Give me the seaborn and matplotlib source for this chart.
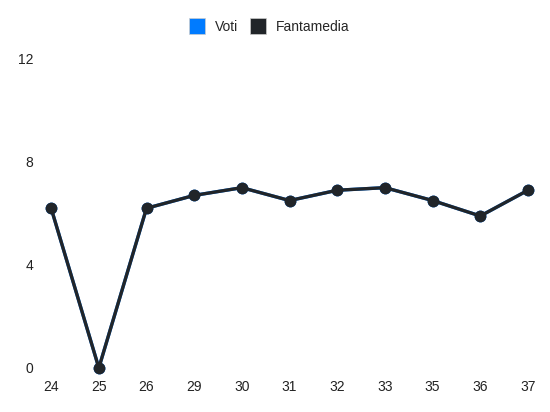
import pandas as pd
import seaborn as sns
import matplotlib
matplotlib.use('Agg')
import matplotlib.pyplot as plt
from matplotlib.lines import Line2D

sns.set_style('white')
plt.rcParams['font.family'] = ['Liberation Sans', 'DejaVu Sans']

giornate = ['24', '25', '26', '29', '30', '31', '32', '33', '35', '36', '37']
voti = [6.2, 0, 6.2, 6.7, 7.0, 6.5, 6.9, 7.0, 6.5, 5.9, 6.9]
fantamedia = [6.2, 0, 6.2, 6.7, 7.0, 6.5, 6.9, 7.0, 6.5, 5.9, 6.9]

colori = {'Voti': '#007bff', 'Fantamedia': '#212529'}

df = pd.concat([
    pd.DataFrame({'giornata': giornate, 'valore': voti, 'serie': 'Voti'}),
    pd.DataFrame({'giornata': giornate, 'valore': fantamedia, 'serie': 'Fantamedia'}),
])

fig = plt.figure(figsize=(5.5, 4.12), dpi=100)
ax = fig.add_axes([0.093, 0.107, 0.867, 0.75])

sns.lineplot(data=df, x='giornata', y='valore', hue='serie', palette=colori,
             marker='o', markersize=8.5, markeredgewidth=0, linewidth=2.4,
             sort=False, legend=False, ax=ax, clip_on=False)

ax.set_ylim(0, 12)
ax.set_yticks([0, 4, 8, 12])
ax.set_xlim(0, len(giornate) - 1)
ax.set_xlabel('')
ax.set_ylabel('')
ax.tick_params(axis='both', length=0, labelsize=10, colors='#222222')
ax.tick_params(axis='x', pad=9)
ax.tick_params(axis='y', pad=13)
for s in ax.spines.values():
    s.set_visible(False)
ax.grid(False)

handles = [Line2D([], [], marker='s', linestyle='none', markersize=11.5,
                  markerfacecolor=c, markeredgecolor='#cccccc', markeredgewidth=0.5)
           for c in colori.values()]
fig.legend(handles, list(colori.keys()), loc='center', bbox_to_anchor=(0.484, 0.934),
           ncol=2, frameon=False, fontsize=10, handletextpad=0.3, columnspacing=0.4)

plt.savefig('out.png', dpi=100)
